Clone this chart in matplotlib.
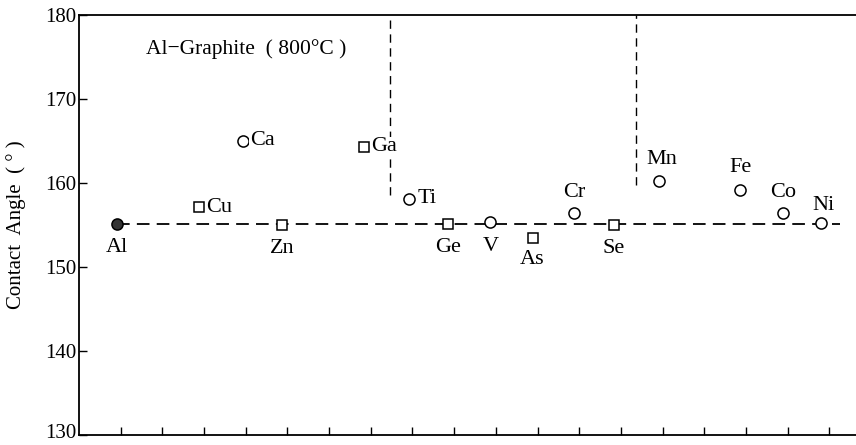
import matplotlib
matplotlib.use("Agg")
import matplotlib.pyplot as plt
import matplotlib.transforms as mtransforms

plt.rcParams['font.family'] = ['Liberation Serif', 'DejaVu Serif']

# reference metal
ref_name = "Al"
ref_x = 0.90
ref_angle = 155.1

# additives drawn as squares
sq_names = ["Cu", "Zn", "Ga", "Ge", "As", "Se"]
sq_x = [2.88, 4.87, 6.84, 8.86, 10.88, 12.83]
sq_angle = [157.1, 155.0, 164.3, 155.1, 153.5, 155.0]

# additives drawn as circles
ci_names = ["Ca", "Ti", "V", "Cr", "Mn", "Fe", "Co", "Ni"]
ci_x = [3.93, 7.92, 9.87, 11.87, 13.91, 15.86, 16.89, 17.80]
ci_angle = [165.0, 158.1, 155.3, 156.4, 160.2, 159.2, 156.4, 155.2]

# vertical separators: x, lower end (top end is the frame)
sep_x = [7.47, 13.36]
sep_low = [158.6, 159.8]
line_end = 18.26

# where each label sits relative to its mark (points)
label_pos = {
    "Al": (0, -17, "center"), "Cu": (5, 0, "left"), "Ca": (5, 0, "left"),
    "Zn": (0, -17, "center"), "Ga": (5, 0, "left"), "Ti": (6, 0, "left"),
    "Ge": (0, -17, "center"), "V": (0, -17, "center"), "As": (0, -16, "center"),
    "Cr": (0, 15, "center"), "Se": (0, -17, "center"), "Mn": (2, 16, "center"),
    "Fe": (0, 16, "center"), "Co": (0, 15, "center"), "Ni": (2, 13, "center"),
}

fig = plt.figure(figsize=(8.56, 4.45), dpi=100)
ax = fig.add_axes([0.0923, 0.0225, 0.9077, 0.9438])

ax.plot([ref_x, line_end], [ref_angle, ref_angle], color="black", lw=1.3,
        dashes=(7, 4), zorder=1)
for x, lo in zip(sep_x, sep_low):
    ax.plot([x, x], [lo, 180], color="black", lw=1.0, dashes=(6, 4), zorder=1)

ax.plot(sq_x, sq_angle, linestyle="none", marker="s", ms=7, mfc="white",
        mec="black", mew=1.1, zorder=3)
ax.plot(ci_x, ci_angle, linestyle="none", marker="o", ms=8, mfc="white",
        mec="black", mew=1.1, zorder=3)
ax.plot([ref_x], [ref_angle], linestyle="none", marker="o", ms=8, mfc="#333333",
        mec="black", mew=1.1, zorder=3)

for name, x, y in zip([ref_name] + sq_names + ci_names,
                      [ref_x] + sq_x + ci_x,
                      [ref_angle] + sq_angle + ci_angle):
    dx, dy, ha = label_pos[name]
    ax.annotate(name, (x, y), xytext=(dx, dy), textcoords="offset points",
                ha=ha, va="center", fontsize=16, zorder=4,
                bbox=dict(fc="white", ec="none", pad=0.5))

ax.text(1.6, 176.0, "Al\u2212Graphite  ( 800°C )", fontsize=15.5, va="center",
        ha="left")

ax.set_xlim(0, 18.64)
ax.set_ylim(130, 180)
ax.set_xticks(range(1, 19))
ax.set_xticklabels([])
ax.set_yticks([130, 140, 150, 160, 170, 180])
ax.tick_params(axis="both", direction="in", length=6, width=1.0, labelsize=15,
               pad=2)
ax.spines["right"].set_visible(False)
for s in ["left", "top", "bottom"]:
    ax.spines[s].set_linewidth(1.3)

# lift the bottom label a little so it stays inside the picture
lab0 = ax.get_yticklabels()[0]
lab0.set_transform(lab0.get_transform() +
                   mtransforms.ScaledTranslation(0, 3 / 72, fig.dpi_scale_trans))

ax.set_ylabel("Contact  Angle  ( ° )", fontsize=15, labelpad=14)

fig.savefig("out.png", dpi=100)
